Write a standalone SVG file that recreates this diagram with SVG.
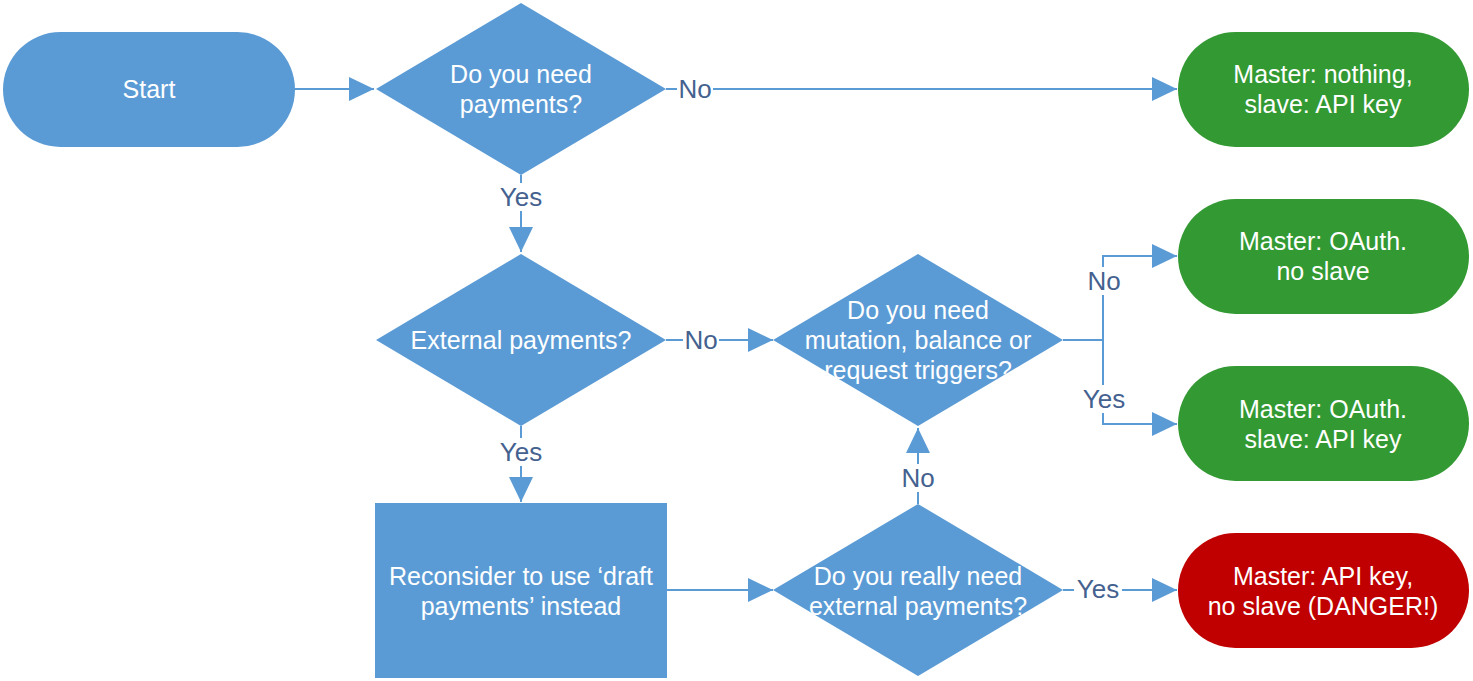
<svg xmlns="http://www.w3.org/2000/svg" width="1473" height="681" viewBox="0 0 1473 681">
<defs>
<marker id="ah" markerWidth="25" markerHeight="24" refX="25" refY="12" orient="auto" markerUnits="userSpaceOnUse">
<path d="M0,0 L25,12 L0,24 Z" fill="#5b9bd5"/>
</marker>
<style>
.b{fill:#5b9bd5}
.g{fill:#339933}
.r{fill:#c00000}
.t{font-family:"Liberation Sans",Arial,sans-serif;font-size:25px;fill:#ffffff;text-anchor:middle;dominant-baseline:central}
.l{font-family:"Liberation Sans",Arial,sans-serif;font-size:26px;fill:#44618f;text-anchor:middle;dominant-baseline:central}
.c{fill:none;stroke:#5b9bd5;stroke-width:2}
.lb{fill:#ffffff}
</style>
</defs>
<rect width="1473" height="681" fill="#ffffff"/>
<g id="connectors">
<path class="c" d="M295,89 H374" marker-end="url(#ah)"/>
<path class="c" d="M666,89 H1177" marker-end="url(#ah)"/>
<path class="c" d="M521,175 V252" marker-end="url(#ah)"/>
<path class="c" d="M666,340 H773" marker-end="url(#ah)"/>
<path class="c" d="M1063,340 H1103"/>
<path class="c" d="M1103,340 V256 H1177" marker-end="url(#ah)"/>
<path class="c" d="M1103,340 V424 H1177" marker-end="url(#ah)"/>
<path class="c" d="M521,426 V502" marker-end="url(#ah)"/>
<path class="c" d="M667,590 H773" marker-end="url(#ah)"/>
<path class="c" d="M918,504 V428" marker-end="url(#ah)"/>
<path class="c" d="M1063,590 H1177" marker-end="url(#ah)"/>
<rect class="lb" x="677" y="75" width="36" height="28"/>
<text class="l" x="695" y="89">No</text>
<rect class="lb" x="497" y="183" width="48" height="28"/>
<text class="l" x="521" y="197">Yes</text>
<rect class="lb" x="683" y="326" width="36" height="28"/>
<text class="l" x="701" y="340">No</text>
<rect class="lb" x="1086" y="267" width="36" height="28"/>
<text class="l" x="1104" y="281">No</text>
<rect class="lb" x="1080" y="385" width="48" height="28"/>
<text class="l" x="1104" y="399">Yes</text>
<rect class="lb" x="497" y="438" width="48" height="28"/>
<text class="l" x="521" y="452">Yes</text>
<rect class="lb" x="900" y="464" width="36" height="28"/>
<text class="l" x="918" y="478">No</text>
<rect class="lb" x="1074" y="575" width="48" height="28"/>
<text class="l" x="1098" y="589">Yes</text>
</g>
<g id="start">
<rect class="b" x="3" y="32" width="292" height="115" rx="57.5"/>
<text class="t" x="149" y="89">Start</text>
</g>
<g id="d1">
<path class="b" d="M521,3 L666,89 L521,175 L376,89 Z"/>
<text class="t" x="521" y="74">Do you need</text>
<text class="t" x="521" y="104">payments?</text>
</g>
<g id="end1">
<rect class="g" x="1178" y="32" width="291" height="115" rx="57.5"/>
<text class="t" x="1323" y="74">Master: nothing,</text>
<text class="t" x="1323" y="104">slave: API key</text>
</g>
<g id="d2">
<path class="b" d="M521,254 L666,340 L521,426 L376,340 Z"/>
<text class="t" x="521" y="340">External payments?</text>
</g>
<g id="d3">
<path class="b" d="M918,254 L1063,340 L918,426 L773,340 Z"/>
<text class="t" x="918" y="310">Do you need</text>
<text class="t" x="918" y="340">mutation, balance or</text>
<text class="t" x="918" y="370">request triggers?</text>
</g>
<g id="end2">
<rect class="g" x="1178" y="199" width="291" height="115" rx="57.5"/>
<text class="t" x="1323" y="241">Master: OAuth.</text>
<text class="t" x="1323" y="271">no slave</text>
</g>
<g id="end3">
<rect class="g" x="1178" y="366" width="291" height="115" rx="57.5"/>
<text class="t" x="1323" y="409">Master: OAuth.</text>
<text class="t" x="1323" y="439">slave: API key</text>
</g>
<g id="reconsider">
<rect class="b" x="375" y="503" width="292" height="175"/>
<text class="t" x="521" y="576">Reconsider to use ‘draft</text>
<text class="t" x="521" y="606">payments’ instead</text>
</g>
<g id="d4">
<path class="b" d="M918,504 L1063,590 L918,676 L773,590 Z"/>
<text class="t" x="918" y="576">Do you really need</text>
<text class="t" x="918" y="606">external payments?</text>
</g>
<g id="end4">
<rect class="r" x="1178" y="533" width="291" height="115" rx="57.5"/>
<text class="t" x="1323" y="576">Master: API key,</text>
<text class="t" x="1323" y="606">no slave (DANGER!)</text>
</g>
</svg>
